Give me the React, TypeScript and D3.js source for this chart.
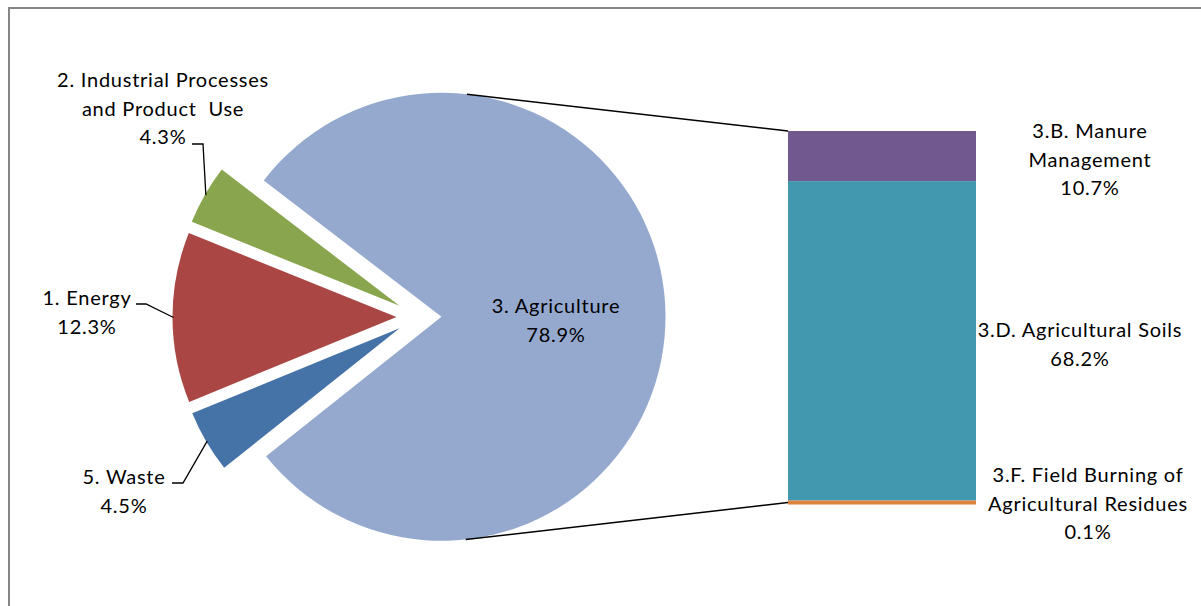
import React from "react";
import * as d3 from "d3";

// ---------- data ----------
const PIE_CATEGORIES = ["3. Agriculture", "5. Waste", "1. Energy", "2. Industrial Processes and Product Use"];
const PIE_VALUES = [78.9, 4.5, 12.3, 4.3];
const BAR_CATEGORIES = ["3.B. Manure Management", "3.D. Agricultural Soils", "3.F. Field Burning of Agricultural Residues"];
const BAR_VALUES = [10.7, 68.2, 0.1];

// ---------- layout / style ----------
const W = 1201;
const H = 606;
const FONT = "Lato, Carlito, Calibri, 'Open Sans', sans-serif";
const FS = 20;
const LS = 0.75;
const LINE = 28.5;
const PIE_COLORS = ["#95a9cf", "#4572a7", "#aa4643", "#89a54e"];
const BAR_COLORS = ["#71588f", "#4198af", "#db843d"];
const PIE_CX = 419;
const PIE_CY = 317;
const R = 224;
const EXPLODE = 22.5;
const START_DEG = -52.5;
const BAR_X0 = 788;
const BAR_X1 = 976;
const BAR_TOP = 131;
const BAR_BOTTOM = 501;

// label layouts (lines, center x, first-line center y, optional leader start)
const PIE_LABEL_LAYOUT = [
  { lines: ["3. Agriculture"], x: 556, y: 306, leader: null },
  { lines: ["5. Waste"], x: 124, y: 477, leader: [[172, 483], [183, 483]] },
  { lines: ["1. Energy"], x: 87, y: 298, leader: [[136, 304], [146, 304]] },
  { lines: ["2. Industrial Processes", "and Product  Use"], x: 163, y: 80, leader: [[192, 144], [203, 144]] },
];
const BAR_LABEL_LAYOUT = [
  { lines: ["3.B. Manure", "Management"], x: 1090, y: 131 },
  { lines: ["3.D. Agricultural Soils"], x: 1080, y: 330 },
  { lines: ["3.F. Field Burning of", "Agricultural Residues"], x: 1088, y: 475 },
];

const fmt = (v: number) => v.toFixed(1) + "%";

export default function App() {
  const pie = d3
    .pie<number>()
    .sort(null)
    .startAngle((START_DEG * Math.PI) / 180)
    .endAngle((START_DEG * Math.PI) / 180 + 2 * Math.PI)
    .value((d) => d);
  const arcs = pie(PIE_VALUES);
  const arcGen = d3.arc<d3.PieArcDatum<number>>().innerRadius(0).outerRadius(R);
  const edgeArc = d3.arc<d3.PieArcDatum<number>>().innerRadius(R - 1).outerRadius(R - 1);

  const offsets = arcs.map((a) => {
    const mid = (a.startAngle + a.endAngle) / 2;
    return [Math.sin(mid) * EXPLODE, -Math.cos(mid) * EXPLODE];
  });

  // bar scale
  const total = d3.sum(BAR_VALUES);
  const y = d3.scaleLinear().domain([0, total]).range([BAR_TOP, BAR_BOTTOM]);
  let acc = 0;
  const segs = BAR_VALUES.map((v, i) => {
    const y0 = y(acc);
    acc += v;
    const y1 = y(acc);
    return { i, y0, h: Math.max(y1 - y0, 4) };
  });

  // connector tangents to agriculture slice
  const acx = PIE_CX + offsets[0][0];
  const acy = PIE_CY + offsets[0][1];
  const tangent = (px: number, py: number, sign: number) => {
    const dx = px - acx;
    const dy = py - acy;
    const d = Math.hypot(dx, dy);
    const base = Math.atan2(dy, dx);
    const alpha = Math.acos(R / d);
    const t = base + sign * alpha;
    return [acx + R * Math.cos(t), acy + R * Math.sin(t)];
  };
  const barTopY = y(0);
  const barBotY = segs[segs.length - 1].y0 + segs[segs.length - 1].h;
  const t1 = tangent(BAR_X0, barTopY, -1);
  const t2 = tangent(BAR_X0, barBotY, 1);

  const textProps = {
    fontFamily: FONT,
    fontSize: FS,
    letterSpacing: LS,
    fill: "#000",
    textAnchor: "middle" as const,
  };

  return (
    <svg
      width={W}
      height={H}
      style={{ position: "absolute", left: 0, top: 0, background: "#fff" }}
    >
      <rect x={9} y={8} width={1200} height={600} fill="#fff" stroke="#868686" strokeWidth={2} />

      {/* pie slices */}
      {arcs.map((a, i) => (
        <path
          key={i}
          d={arcGen(a) || ""}
          fill={PIE_COLORS[i]}
          transform={`translate(${PIE_CX + offsets[i][0]},${PIE_CY + offsets[i][1]})`}
        />
      ))}

      {/* connectors */}
      <line x1={t1[0]} y1={t1[1]} x2={BAR_X0} y2={barTopY} stroke="#000" strokeWidth={1.5} />
      <line x1={t2[0]} y1={t2[1]} x2={BAR_X0} y2={barBotY - 2} stroke="#000" strokeWidth={1.5} />

      {/* bar */}
      {segs.map((s) => (
        <rect key={s.i} x={BAR_X0} y={s.y0} width={BAR_X1 - BAR_X0} height={s.h} fill={BAR_COLORS[s.i]} />
      ))}

      {/* pie leaders */}
      {PIE_LABEL_LAYOUT.map((L, i) => {
        if (!L.leader) return null;
        const c = edgeArc.centroid(arcs[i]);
        const ex = PIE_CX + offsets[i][0] + c[0];
        const ey = PIE_CY + offsets[i][1] + c[1];
        const pts = [...L.leader, [ex, ey]];
        return (
          <polyline
            key={"ld" + i}
            points={pts.map((p) => p.join(",")).join(" ")}
            fill="none"
            stroke="#000"
            strokeWidth={1.3}
          />
        );
      })}

      {/* pie labels */}
      {PIE_LABEL_LAYOUT.map((L, i) => (
        <text key={"pl" + i} {...textProps}>
          {[...L.lines, fmt(PIE_VALUES[i])].map((ln, j) => (
            <tspan key={j} x={L.x} y={L.y + j * LINE} dy="0.35em" style={{ whiteSpace: "pre" }}>
              {ln}
            </tspan>
          ))}
        </text>
      ))}

      {/* bar labels */}
      {BAR_LABEL_LAYOUT.map((L, i) => (
        <text key={"bl" + i} {...textProps}>
          {[...L.lines, fmt(BAR_VALUES[i])].map((ln, j) => (
            <tspan key={j} x={L.x} y={L.y + j * LINE} dy="0.35em">
              {ln}
            </tspan>
          ))}
        </text>
      ))}
    </svg>
  );
}
